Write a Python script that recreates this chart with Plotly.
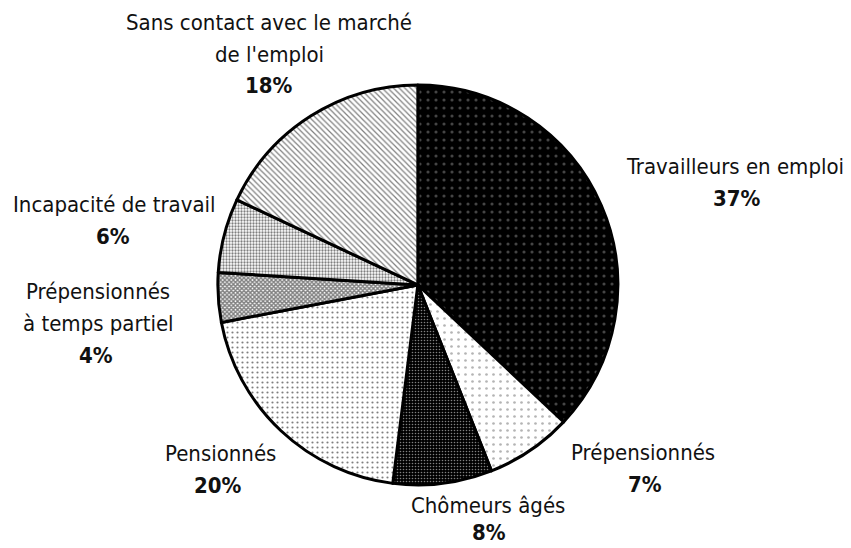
import plotly.graph_objects as go

labels = ["Travailleurs en emploi", "Prépensionnés", "Chômeurs âgés", "Pensionnés",
          "Prépensionnés\nà temps partiel", "Incapacité de travail",
          "Sans contact avec le marché\nde l'emploi"]
values = [37, 7, 8, 20, 4, 6, 18]

# label layout (pixel positions of text centres, from top-left)
label_x = [735, 643, 488, 221, 98, 114, 269]
pct_x = [737, 645, 489, 218, 96, 113, 269]
label_top = [166, 452, 505, 453, 291, 204, 22]
LINE = 32

shapes = [".", ".", ".", ".", "x", ".", "\\"]
bgcolors = ["black", "white", "black", "white", "white", "white", "white"]
fgcolors = ["#8a8a8a", "#6a6a6a", "#ffffff", "#000000", "#000000", "#000000", "#000000"]
psizes = [8, 7, 3, 5, 3, 3, 4]
solid = [0.12, 0.12, 0.22, 0.15, 0.7, 0.45, 0.3]

W, H = 851, 548
FONT = "DejaVu Sans Condensed, DejaVu Sans, sans-serif"
FS = 22

fig = go.Figure(go.Pie(
    labels=[l.replace("\n", " ") for l in labels], values=values, sort=False,
    direction="clockwise", rotation=0, textinfo="none",
    marker=dict(colors=bgcolors, line=dict(color="black", width=3),
                pattern=dict(shape=shapes, bgcolor=bgcolors, fgcolor=fgcolors,
                             size=psizes, solidity=solid, fillmode="overlay")),
    domain=dict(x=[0.256, 0.726], y=[0.115, 0.845]),
    showlegend=False, hoverinfo="label+percent",
))

total = sum(values)
annotations = []
for lab, v, lx, px, top in zip(labels, values, label_x, pct_x, label_top):
    lines = lab.split("\n")
    for i, line in enumerate(lines):
        annotations.append(dict(x=lx / W, y=1 - (top + i * LINE) / H, xref="paper", yref="paper",
                                text=line, showarrow=False, xanchor="center", yanchor="middle",
                                font=dict(family=FONT, size=FS, color="#111")))
    yc = min(top + len(lines) * LINE, H - 16)
    annotations.append(dict(x=px / W, y=1 - yc / H, xref="paper", yref="paper",
                            text="<b>%d%%</b>" % round(100 * v / total), showarrow=False,
                            xanchor="center", yanchor="middle",
                            font=dict(family=FONT, size=FS, color="#111")))

fig.update_layout(width=W, height=H, margin=dict(l=0, r=0, t=0, b=0),
                  paper_bgcolor="white", plot_bgcolor="white", annotations=annotations)
fig.write_html("out.html")
